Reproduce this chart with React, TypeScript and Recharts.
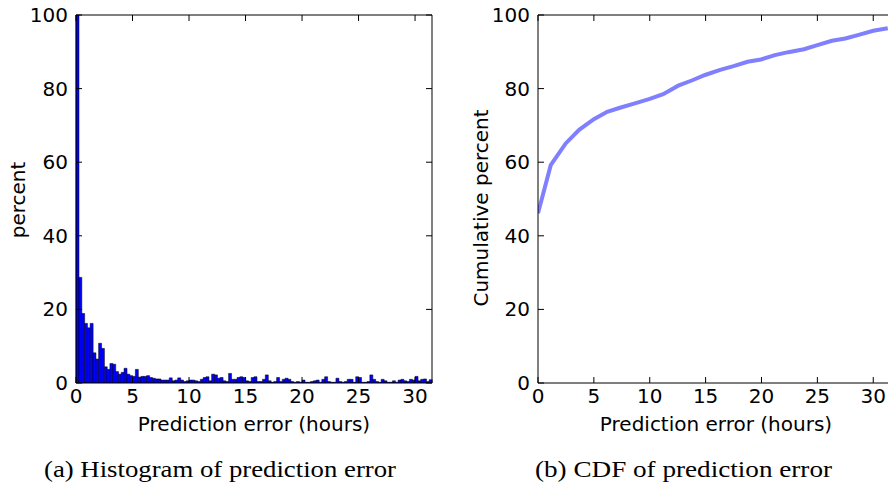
import React from "react";
import { ComposedChart, LineChart, Bar, Line, XAxis, YAxis } from "recharts";

// Histogram (bin width 0.25 h, 0 .. 31.5 h): percent per bin
const histPercent: number[] = [
  100, 28.7, 18.9, 16.2, 15.0, 16.2, 8.2, 6.5, 10.8, 9.4,
  4.4, 3.7, 5.3, 5.1, 3.1, 2.4, 2.9, 4.0, 2.4, 2.0,
  1.8, 3.7, 1.6, 1.8, 1.8, 2.0, 1.5, 1.3, 1.1, 1.1,
  0.8, 0.8, 0.8, 1.4, 0.6, 0.8, 1.4,
  0.8, 0.4, 0.6, 0.8, 0.8, 0.6, 0.4, 1.0, 1.5, 1.7, 0.6, 2.4, 2.2, 1.3, 1.5, 0.6, 0.4, 2.6, 1.0,
  1.0, 1.5, 1.7, 1.5, 0.6, 0.4, 1.5, 1.7, 0.4, 0.4, 1.0, 2.2, 0.6, 0.2, 0.4, 1.5, 0.4, 1.0, 1.3, 1.0, 0.4, 0.2,
  0.4, 0.2, 0.8, 0.2, 0.2, 0.4, 0.6, 0.8, 0.2, 1.0, 1.7, 0.4, 0.2, 0.2, 1.3, 0.4, 0.2, 0.4, 1.0,
  1.0, 0.2, 1.7, 1.5, 0.2, 0.2, 0.4, 2.2, 1.0, 0.4, 0.2, 1.0, 0.6, 0.2, 0.2, 0.6, 0.2, 0.8, 1.0, 0.6,
  0.4, 1.0, 0.8, 1.8, 0.6, 1.0, 1.1, 0.4, 0.9,
];
const BIN_WIDTH = 0.25;

// CDF points
const cdfHours: number[] = [0, 1.14, 2.48, 3.68, 5.0, 6.19, 7.33, 8.67, 10.0, 11.2, 12.55, 13.76, 14.95, 16.3, 17.5, 18.75, 19.95, 21.2, 22.4, 23.8, 25.0, 26.3, 27.5, 28.7, 30.0, 31.3];
const cdfPercent: number[] = [46.1, 59.2, 65.1, 68.8, 71.7, 73.7, 74.8, 76.0, 77.2, 78.5, 80.8, 82.2, 83.7, 85.1, 86.1, 87.3, 87.9, 89.1, 89.9, 90.7, 91.8, 93.0, 93.6, 94.6, 95.7, 96.4];

const xTicks: number[] = [0, 5, 10, 15, 20, 25, 30];
const yTicks: number[] = [0, 20, 40, 60, 80, 100];
const X_DOMAIN: [number, number] = [0, 31.5];

const histData = histPercent.map((p, i) => ({ bin: i, x0: i * BIN_WIDTH, pct: p }));
const cdfData = cdfHours.map((h, i) => ({ x: h, y: cdfPercent[i] }));

const FONT = "DejaVu Sans";
const TL = 6;

const BottomTick = (props: any) => {
  const { x, y, payload } = props;
  return (
    <g>
      <line x1={x} y1={y} x2={x} y2={y - TL} stroke="#000" strokeWidth={1} />
      <text x={x} y={y + 20} textAnchor="middle" fontSize={20} fontFamily={FONT} fill="#000">
        {payload.value}
      </text>
    </g>
  );
};
const TopTick = (props: any) => {
  const { x, y } = props;
  return <line x1={x} y1={y} x2={x} y2={y + TL} stroke="#000" strokeWidth={1} />;
};
const LeftTick = (props: any) => {
  const { x, y, payload } = props;
  return (
    <g>
      <line x1={x} y1={y} x2={x + TL} y2={y} stroke="#000" strokeWidth={1} />
      <text x={x - 8} y={y + 7} textAnchor="end" fontSize={20} fontFamily={FONT} fill="#000">
        {payload.value}
      </text>
    </g>
  );
};
const RightTick = (props: any) => {
  const { x, y } = props;
  return <line x1={x} y1={y} x2={x - TL} y2={y} stroke="#000" strokeWidth={1} />;
};

const TOP = 15;
const BOTTOM = 383;
const H = 486;

export default function App() {
  const leftW = 450;
  const leftPlotL = 76;
  const leftPlotR = 432;
  const rightChartX = 450;
  const rightW = 470;
  const rightPlotL = 538;
  const rightPlotR = 890;
  return (
    <div style={{ position: "absolute", left: 0, top: 0, width: 888, height: 486, overflow: "hidden", background: "#fff" }}>
      <div style={{ position: "absolute", left: 0, top: 0 }}>
        <ComposedChart
          width={leftW}
          height={H}
          data={histData}
          margin={{ top: TOP - 1, left: leftPlotL - 1, right: leftW - leftPlotR - 1, bottom: H - BOTTOM - 1 }}
          barCategoryGap={0}
          barGap={0}
        >
          <XAxis xAxisId="num" type="number" dataKey="x0" domain={X_DOMAIN} ticks={xTicks} allowDataOverflow
            height={1} tickSize={0} tickMargin={0} interval={0} stroke="#000" tick={BottomTick} />
          <XAxis xAxisId="cat" dataKey="bin" hide height={0} />
          <XAxis xAxisId="top" orientation="top" type="number" dataKey="x0" domain={X_DOMAIN} ticks={xTicks} allowDataOverflow
            height={1} tickSize={0} tickMargin={0} interval={0} stroke="#000" tick={TopTick} />
          <YAxis yAxisId="l" type="number" domain={[0, 100]} ticks={yTicks} allowDataOverflow
            width={1} tickSize={0} tickMargin={0} interval={0} stroke="#000" tick={LeftTick} />
          <YAxis yAxisId="r" orientation="right" type="number" domain={[0, 100]} ticks={yTicks} allowDataOverflow
            width={1} tickSize={0} tickMargin={0} interval={0} stroke="#000" tick={RightTick} />
          <Bar xAxisId="cat" yAxisId="l" dataKey="pct" fill="#0000ff" stroke="#000" strokeWidth={0.5} isAnimationActive={false} />
        </ComposedChart>
      </div>
      <div style={{ position: "absolute", left: rightChartX, top: 0 }}>
        <LineChart
          width={rightW}
          height={H}
          data={cdfData}
          margin={{ top: TOP - 1, left: rightPlotL - rightChartX - 1, right: rightChartX + rightW - rightPlotR, bottom: H - BOTTOM - 1 }}
        >
          <XAxis xAxisId="num" type="number" dataKey="x" domain={X_DOMAIN} ticks={xTicks} allowDataOverflow
            height={1} tickSize={0} tickMargin={0} interval={0} stroke="#000" tick={BottomTick} />
          <XAxis xAxisId="top" orientation="top" type="number" dataKey="x" domain={X_DOMAIN} ticks={xTicks} allowDataOverflow
            height={1} tickSize={0} tickMargin={0} interval={0} stroke="#000" tick={TopTick} />
          <YAxis yAxisId="l" type="number" domain={[0, 100]} ticks={yTicks} allowDataOverflow
            width={1} tickSize={0} tickMargin={0} interval={0} stroke="#000" tick={LeftTick} />
          <Line xAxisId="num" yAxisId="l" type="linear" dataKey="y" stroke="#8080ff" strokeWidth={4} dot={false} isAnimationActive={false} />
        </LineChart>
      </div>
      <svg width={888} height={486} style={{ position: "absolute", left: 0, top: 0, pointerEvents: "none" }}>
        <text x={254} y={431} textAnchor="middle" fontSize={20} fontFamily={FONT} fill="#000">Prediction error (hours)</text>
        <text x={716} y={431} textAnchor="middle" fontSize={20} fontFamily={FONT} fill="#000">Prediction error (hours)</text>
        <text transform="translate(25,200) rotate(-90)" textAnchor="middle" fontSize={20} fontFamily={FONT} fill="#000">percent</text>
        <text transform="translate(488,208) rotate(-90)" textAnchor="middle" fontSize={20} fontFamily={FONT} fill="#000">Cumulative percent</text>
        <text x={44} y={477} textLength={352} lengthAdjust="spacingAndGlyphs" fontSize={24} fontFamily="Liberation Serif" fill="#000">(a) Histogram of prediction error</text>
        <text x={535} y={477} textLength={297} lengthAdjust="spacingAndGlyphs" fontSize={24} fontFamily="Liberation Serif" fill="#000">(b) CDF of prediction error</text>
      </svg>
    </div>
  );
}
